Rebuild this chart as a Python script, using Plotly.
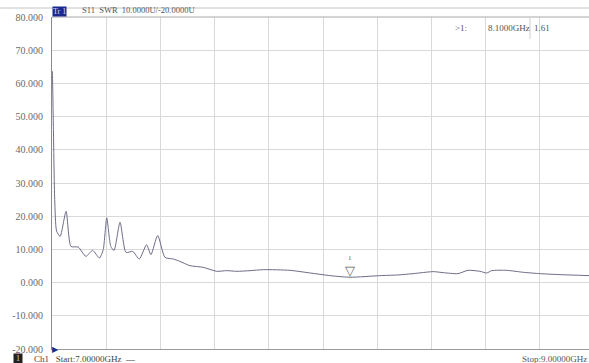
import plotly.graph_objects as go

# Frequency (GHz) and SWR values
freq_ghz = [7.000, 7.001, 7.005, 7.010, 7.017, 7.030, 7.052, 7.070, 7.097, 7.125, 7.150,
            7.175, 7.189, 7.202, 7.217, 7.229, 7.251, 7.273, 7.298, 7.322, 7.349, 7.365,
            7.390, 7.417, 7.448, 7.472, 7.509, 7.558, 7.608, 7.645, 7.682, 7.731, 7.780,
            7.878, 7.952, 8.026, 8.100, 8.210, 8.277, 8.332, 8.407, 8.443, 8.498, 8.535,
            8.579, 8.604, 8.623, 8.678, 8.739, 8.801, 8.875, 8.982]
swr = [63.0, 63.6, 47.0, 25.0, 15.5, 13.9, 21.5, 10.9, 10.7, 7.9, 9.7,
       7.4, 9.9, 19.5, 10.9, 9.7, 18.2, 9.1, 9.4, 7.1, 11.4, 8.4,
       14.2, 7.6, 7.1, 6.4, 5.1, 4.6, 3.4, 3.6, 3.4, 3.6, 3.9,
       3.7, 2.9, 2.1, 1.61, 2.1, 2.3, 2.7, 3.3, 3.0, 2.7, 3.7,
       3.4, 2.9, 3.6, 3.7, 3.1, 2.7, 2.4, 2.1]

y_tick_vals = [80, 70, 60, 50, 40, 30, 20, 10, 0, -10, -20]
y_tick_text = ["80.000", "70.000", "60.000", "50.000", "40.000", "30.000",
               "20.000", "10.000", "0.000", "-10.000", "-20.000"]
x_grid_vals = [7.0, 7.2, 7.4, 7.6, 7.8, 8.0, 8.2, 8.4, 8.6, 8.8]

marker_freq = 8.1
marker_val = 1.61

FONT = "Liberation Serif"
PW = 537  # plot width px
PH = 332  # plot height px

fig = go.Figure()
fig.add_trace(go.Scatter(x=freq_ghz, y=swr, mode="lines",
                         line=dict(color="#6c6d86", width=1, shape="spline", smoothing=0.6),
                         showlegend=False, hoverinfo="skip"))

fig.update_layout(
    width=589, height=363,
    margin=dict(l=52, r=0, t=17, b=14),
    paper_bgcolor="white", plot_bgcolor="white",
    font=dict(family=FONT, size=9, color="#666"),
    xaxis=dict(range=[7.0, 8.9815], tickvals=x_grid_vals, showticklabels=False,
               showgrid=True, gridcolor="#d9d9d9", gridwidth=1, zeroline=False,
               showline=True, linecolor="#9a9a9a", linewidth=1, ticks=""),
    yaxis=dict(range=[-20, 80], tickvals=y_tick_vals, ticktext=y_tick_text,
               showgrid=True, gridcolor="#d9d9d9", gridwidth=1, zeroline=False,
               showline=True, linecolor="#8a8a8a", linewidth=1, ticks="",
               ticklabelstandoff=6, tickfont=dict(family=FONT, size=10, color="#6a6a6a")),
)

# top frame lines
fig.add_shape(type="line", xref="paper", yref="paper", x0=0, x1=1, y0=1, y1=1,
              line=dict(color="#a8a8a8", width=1))
fig.add_shape(type="line", xref="paper", yref="paper", x0=-0.1, x1=1, y0=1 + 9 / PH, y1=1 + 9 / PH,
              line=dict(color="#c4c4c4", width=1))
# separator in marker readout
fig.add_shape(type="line", xref="paper", yref="paper", x0=(530 - 52) / PW, x1=(530 - 52) / PW,
              y0=1, y1=1 - 22 / PH, line=dict(color="#cfcfcf", width=1))

# Trace header
fig.add_annotation(xref="paper", yref="paper", x=0, y=1, xanchor="left", yanchor="bottom",
                   text="Tr 1", showarrow=False, bgcolor="#1b2b8c",
                   font=dict(family=FONT, size=8, color="#d8dcff"), borderpad=0)
fig.add_annotation(xref="paper", yref="paper", x=(80 - 52) / PW, y=1, xanchor="left", yanchor="bottom",
                   text="S11  SWR  10.0000U/-20.0000U", showarrow=False,
                   font=dict(family=FONT, size=8.5, color="#555"))

# Marker readout
fig.add_annotation(xref="paper", yref="paper", x=(453 - 52) / PW, y=1 - 4 / PH, xanchor="left", yanchor="top",
                   text=">1:", showarrow=False, font=dict(family=FONT, size=9, color="#555"))
fig.add_annotation(xref="paper", yref="paper", x=(486 - 52) / PW, y=1 - 4 / PH, xanchor="left", yanchor="top",
                   text=f"{marker_freq:.4f}GHz", showarrow=False, font=dict(family=FONT, size=9, color="#555"))
fig.add_annotation(xref="paper", yref="paper", x=(532 - 52) / PW, y=1 - 4 / PH, xanchor="left", yanchor="top",
                   text=f"{marker_val:.2f}", showarrow=False, font=dict(family=FONT, size=9, color="#555"))

# Marker symbol on trace
fig.add_annotation(x=marker_freq, y=marker_val, xref="x", yref="y", yanchor="bottom",
                   text="▽", showarrow=False, font=dict(family="DejaVu Sans", size=13, color="#666"),
                   yshift=-3)
fig.add_annotation(x=marker_freq, y=marker_val, xref="x", yref="y", yanchor="bottom",
                   text="1", showarrow=False, font=dict(family=FONT, size=7, color="#666"),
                   yshift=13)

# Reference position arrow on left axis
fig.add_annotation(xref="paper", x=0, y=-20, yref="y", xanchor="left", yanchor="middle",
                   text="▶", showarrow=False, font=dict(family="DejaVu Sans", size=8, color="#1b2b8c"),
                   xshift=-2)

# Footer
fig.add_annotation(xref="paper", yref="paper", x=(13 - 52) / PW, y=-4 / PH, xanchor="left", yanchor="top",
                   text=" 1 ", showarrow=False, bgcolor="#222",
                   font=dict(family=FONT, size=8, color="#ddd"), borderpad=0)
fig.add_annotation(xref="paper", yref="paper", x=(32 - 52) / PW, y=-3 / PH, xanchor="left", yanchor="top",
                   text="Ch1   Start:7.00000GHz  —", showarrow=False,
                   font=dict(family=FONT, size=9, color="#444"))
fig.add_annotation(xref="paper", yref="paper", x=1, y=-3 / PH, xanchor="right", yanchor="top",
                   text="Stop:9.00000GHz", showarrow=False,
                   font=dict(family=FONT, size=9, color="#555"))

fig.write_html("out.html")
